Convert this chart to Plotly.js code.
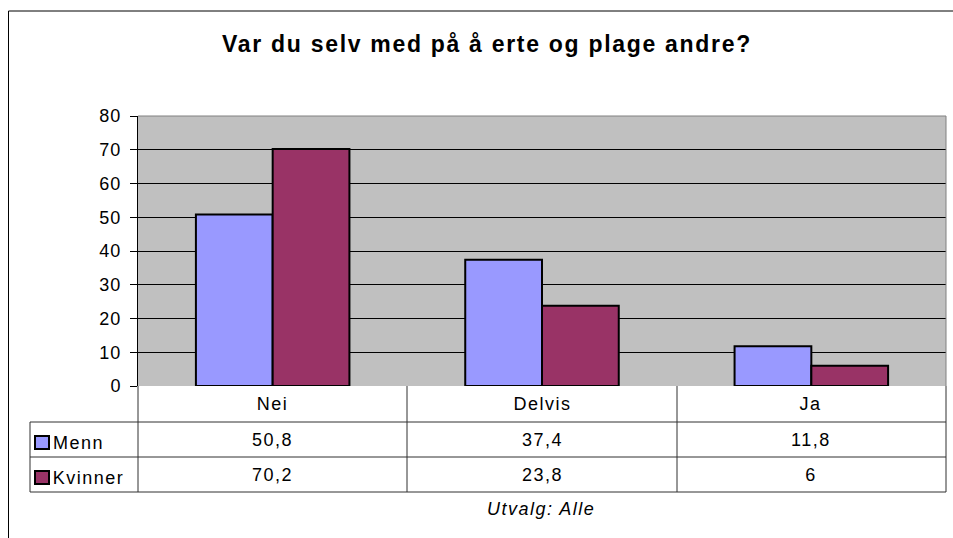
<!DOCTYPE html>
<html>
<head>
<meta charset="utf-8">
<script src="https://cdn.plot.ly/plotly-3.0.1.min.js"></script>
<style>
html,body{margin:0;padding:0;background:#fff;}
#chart{width:953px;height:538px;}
#chart .gtitle{letter-spacing:1.7px;}
#chart .ytick text{letter-spacing:1px;}
#chart .annotation-text{letter-spacing:1.5px;}
</style>
</head>
<body>
<div id="chart"></div>
<script>
const categories = ["Nei", "Delvis", "Ja"];
const seriesNames = ["Menn", "Kvinner"];
const menn = [50.8, 37.4, 11.8];
const kvinner = [70.2, 23.8, 6];
const yTicks = [0, 10, 20, 30, 40, 50, 60, 70, 80];
const titleText = "Var du selv med på å erte og plage andre?";
const footnote = "Utvalg: Alle";
const colors = ["#9999FF", "#993366"];

const W = 953, H = 538;
const L = 138, R = 946, T = 116, B = 386;
const pw = R - L, ph = B - T;
const px = v => (v - L) / pw;
const py = v => (B - v) / ph;

const font = "Arial, 'Liberation Sans', sans-serif";
const fmt = v => String(v).replace('.', ',');

const traces = [menn, kvinner].map((vals, i) => ({
  type: 'bar',
  name: seriesNames[i],
  x: categories,
  y: vals,
  marker: {color: colors[i], line: {color: '#000', width: 2}},
  hoverinfo: 'skip'
}));

const lineC = '#303030';
const shapes = [];
function hline(y, x0, x1, c) {
  shapes.push({type: 'line', xref: 'paper', yref: 'paper', x0: px(x0), x1: px(x1), y0: py(y), y1: py(y), line: {color: c || lineC, width: 1}});
}
function vline(x, y0, y1, c) {
  shapes.push({type: 'line', xref: 'paper', yref: 'paper', x0: px(x), x1: px(x), y0: py(y0), y1: py(y1), line: {color: c || lineC, width: 1}});
}
// plot area border (top/right gray)
hline(T, L, R, '#808080');
vline(R, T, B, '#808080');
// outer chart border
vline(8.5, 11, 540, '#000');
hline(11, 8.5, 960, '#000');
// table
const rowY = [386, 422, 457, 492];
hline(422, 30, 946);
hline(457, 30, 946);
hline(492, 30, 946);
vline(30, 422, 492);
vline(138, 386, 492);
vline(407, 386, 492);
vline(677, 386, 492);
vline(946, 386, 492);
// legend keys
[0, 1].forEach(i => {
  const cy = (rowY[i + 1] + rowY[i + 2]) / 2 + 3;
  shapes.push({type: 'rect', xref: 'paper', yref: 'paper',
    x0: px(35), x1: px(49), y0: py(cy - 6.5), y1: py(cy + 6.5),
    fillcolor: colors[i], line: {color: '#000', width: 2}});
});

const annotations = [];
const tf = {family: font, size: 18, color: '#000'};
categories.forEach((c, j) => {
  annotations.push({xref: 'x', yref: 'paper', x: c, y: py((rowY[0] + rowY[1]) / 2), text: c, showarrow: false,
    xanchor: 'center', yanchor: 'middle', font: tf});
  [menn, kvinner].forEach((vals, i) => {
    annotations.push({xref: 'x', yref: 'paper', x: c, y: py((rowY[i + 1] + rowY[i + 2]) / 2), text: fmt(vals[j]), showarrow: false,
      xanchor: 'center', yanchor: 'middle', font: tf});
  });
});
seriesNames.forEach((n, i) => {
  annotations.push({xref: 'paper', yref: 'paper', x: px(51), y: py((rowY[i + 1] + rowY[i + 2]) / 2 + 3), text: n, showarrow: false,
    xanchor: 'left', yanchor: 'middle', xshift: n.length * 0.75, font: tf});
});
annotations.push({xref: 'paper', yref: 'paper', x: px(541), y: py(509), text: '<i>' + footnote + '</i>', showarrow: false,
  xanchor: 'center', yanchor: 'middle', font: tf});

const layout = {
  width: W, height: H,
  margin: {l: L, r: W - R, t: T, b: H - B, pad: 0},
  paper_bgcolor: '#fff',
  plot_bgcolor: '#C0C0C0',
  showlegend: false,
  barmode: 'group',
  bargap: 0.43,
  bargroupgap: 0,
  title: {text: '<b>' + titleText + '</b>', x: 487 / W, xref: 'container', xanchor: 'center', y: 1 - 44 / H, yref: 'container', yanchor: 'middle',
    font: {family: font, size: 23, color: '#000'}},
  xaxis: {showticklabels: false, showgrid: false, zeroline: false, showline: false, ticks: '', fixedrange: true},
  yaxis: {range: [0, 80], tickvals: yTicks, ticktext: yTicks.map(String), ticks: 'outside', ticklen: 7, tickcolor: '#000', tickwidth: 1,
    showline: true, linecolor: '#000', linewidth: 1, showgrid: true, gridcolor: '#000', gridwidth: 1, zeroline: false,
    tickfont: {family: font, size: 18, color: '#000'}, ticklabelstandoff: 5, fixedrange: true},
  shapes: shapes,
  annotations: annotations
};

Plotly.newPlot('chart', traces, layout, {displayModeBar: false, staticPlot: true});
</script>
</body>
</html>
